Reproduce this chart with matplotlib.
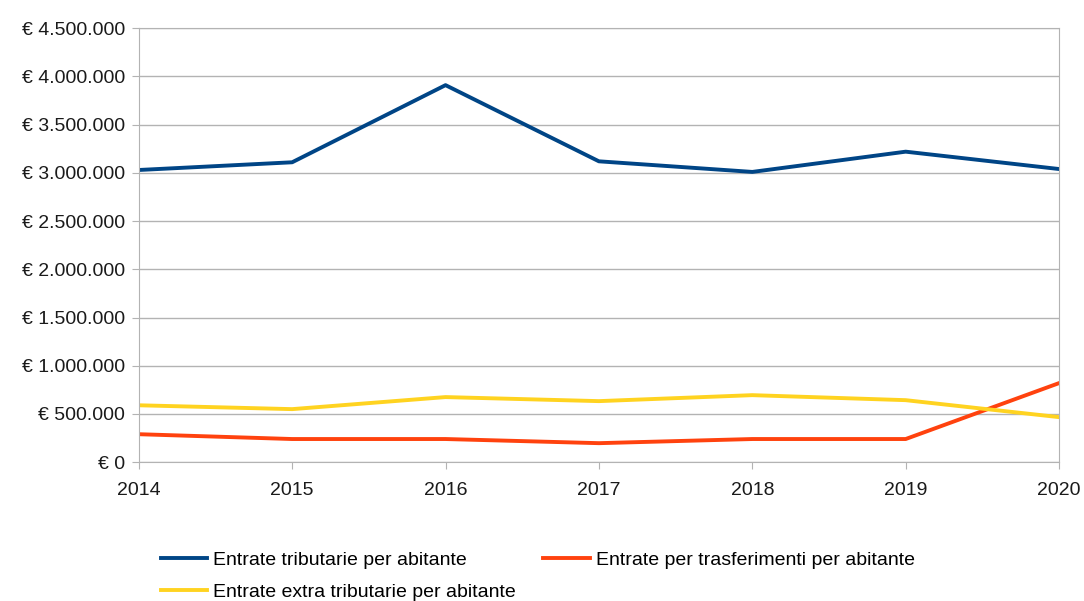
import matplotlib.pyplot as plt
from matplotlib.ticker import FuncFormatter

plt.rcParams['font.family'] = ['Liberation Sans', 'DejaVu Sans']

anni = [2014, 2015, 2016, 2017, 2018, 2019, 2020]
tributarie = [3030000, 3110000, 3910000, 3120000, 3010000, 3220000, 3040000]
trasferimenti = [290000, 240000, 240000, 197000, 240000, 240000, 820000]
extra_tributarie = [590000, 550000, 675000, 633000, 695000, 643000, 467000]

fig = plt.figure(figsize=(10.84, 6.01), dpi=100)
ax = fig.add_axes([0.128, 0.231, 0.849, 0.722])

l1, = ax.plot(anni, tributarie, color='#004586', lw=2.8, label='Entrate tributarie per abitante')
l2, = ax.plot(anni, trasferimenti, color='#ff420e', lw=2.8, label='Entrate per trasferimenti per abitante')
l3, = ax.plot(anni, extra_tributarie, color='#ffd320', lw=2.8, label='Entrate extra tributarie per abitante')

def euro(v, pos):
    return '€ ' + f'{int(v):,}'.replace(',', '.')

ax.yaxis.set_major_formatter(FuncFormatter(euro))
ax.set_ylim(0, 4500000)
ax.set_yticks(range(0, 4500001, 500000))
ax.set_xlim(2014, 2020)
ax.set_xticks(anni)

ax.grid(axis='y', color='#b3b3b3', lw=1)
ax.set_axisbelow(True)
for s in ax.spines.values():
    s.set_color('#b3b3b3')
ax.tick_params(colors='#b3b3b3', labelcolor='#1a1a1a', labelsize=14, length=5)
ax.tick_params(axis='x', pad=9)
ax.tick_params(axis='y', pad=5)

fig.legend(handles=[l1, l3, l2], ncol=2, loc='lower left', bbox_to_anchor=(0.132, -0.029),
           frameon=False, fontsize=14, handlelength=2.4, handletextpad=0.3,
           columnspacing=1.4, labelspacing=0.75)

fig.savefig('out.png', dpi=100)
